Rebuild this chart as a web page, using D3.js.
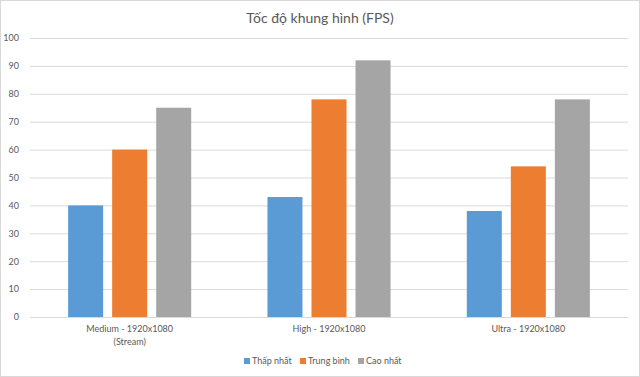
<!DOCTYPE html>
<html>
<head>
<meta charset="utf-8">
<script src="https://cdn.jsdelivr.net/npm/d3@7"></script>
<style>
  body { margin: 0; background: #fff; }
  svg { display: block; font-family: Lato, "Open Sans", sans-serif; }
</style>
</head>
<body>
<svg id="chart" width="640" height="377"></svg>
<script>
// Data
const categories = ["Medium - 1920x1080\n(Stream)", "High - 1920x1080", "Ultra - 1920x1080"];
const seriesNames = ["Thấp nhất", "Trung bình", "Cao nhất"];
const minFps = [40, 43, 38];
const avgFps = [60, 78, 54];
const maxFps = [75, 92, 78];
const yTicks = [0, 10, 20, 30, 40, 50, 60, 70, 80, 90, 100];
const colors = ["#5b9bd5", "#ed7d31", "#a5a5a5"];

const width = 640, height = 377;
const margins = { top: 38, right: 12, bottom: 60, left: 30 };

const svg = d3.select("#chart");

// Chart border
svg.append("rect")
  .attr("x", 0.5).attr("y", 0.5)
  .attr("width", width - 1).attr("height", height - 1)
  .attr("fill", "#fff")
  .attr("stroke", "#d9d9d9");

// Title
svg.append("text")
  .attr("x", width / 2)
  .attr("y", 23)
  .attr("text-anchor", "middle")
  .style("font-size", "14px")
  .attr("fill", "#595959")
  .text("Tốc độ khung hình (FPS)");

const data = categories.map((c, i) => ({
  cat: c,
  values: [minFps[i], avgFps[i], maxFps[i]]
}));

// Scales
const x0 = d3.scaleBand()
  .domain(categories)
  .range([margins.left, width - margins.right]);

const x1 = d3.scaleBand()
  .domain(seriesNames)
  .range([0, x0.bandwidth()])
  .paddingInner(0.205)
  .paddingOuter(0.866);

const y = d3.scaleLinear()
  .domain([0, 100])
  .range([height - margins.bottom, margins.top]);

// Gridlines + y labels
const yAxis = svg.append("g")
  .attr("transform", `translate(${margins.left}, 0)`)
  .call(d3.axisLeft(y).tickValues(yTicks).tickSize(-(width - margins.left - margins.right)).tickPadding(11));
yAxis.select(".domain").remove();
yAxis.selectAll("line").attr("stroke", "#d9d9d9");
yAxis.selectAll("text")
  .attr("fill", "#595959")
  .style("font-size", "9px")
  .style("font-family", "Lato, 'Open Sans', sans-serif");

// Bars
svg.append("g")
  .selectAll("g")
  .data(data)
  .join("g")
  .attr("transform", (d) => `translate(${x0(d.cat)}, 0)`)
  .selectAll("rect")
  .data((d) => d.values.map((v, i) => ({ name: seriesNames[i], value: v, i })))
  .join("rect")
  .attr("x", (d) => x1(d.name))
  .attr("y", (d) => y(d.value))
  .attr("width", x1.bandwidth())
  .attr("height", (d) => y(0) - y(d.value))
  .attr("fill", (d) => colors[d.i]);

// X axis
const xAxis = svg.append("g")
  .attr("transform", `translate(0, ${y(0)})`)
  .call(d3.axisBottom(x0).tickSize(0).tickFormat(""));
xAxis.select(".domain").attr("stroke", "#d9d9d9");

const xLabels = svg.append("g")
  .selectAll("text")
  .data(categories)
  .join("text")
  .attr("x", (d) => x0(d) + x0.bandwidth() / 2)
  .attr("y", y(0) + 15)
  .attr("text-anchor", "middle")
  .attr("fill", "#595959")
  .style("font-size", "9px");
xLabels.each(function (d) {
  const lines = d.split("\n");
  d3.select(this).selectAll("tspan")
    .data(lines)
    .join("tspan")
    .attr("x", x0(d) + x0.bandwidth() / 2)
    .attr("dy", (l, i) => (i === 0 ? 0 : 12.5))
    .text((l) => l);
});

// Legend
const legendX = [244, 300, 358];
const legend = svg.append("g")
  .selectAll("g")
  .data(seriesNames)
  .join("g")
  .attr("transform", (d, i) => `translate(${legendX[i]}, 364)`);
legend.append("rect")
  .attr("x", 0).attr("y", -6)
  .attr("width", 6).attr("height", 6)
  .attr("fill", (d, i) => colors[i]);
legend.append("text")
  .attr("x", 8).attr("y", 0)
  .attr("fill", "#595959")
  .style("font-size", "9px")
  .text((d) => d);
</script>
</body>
</html>
